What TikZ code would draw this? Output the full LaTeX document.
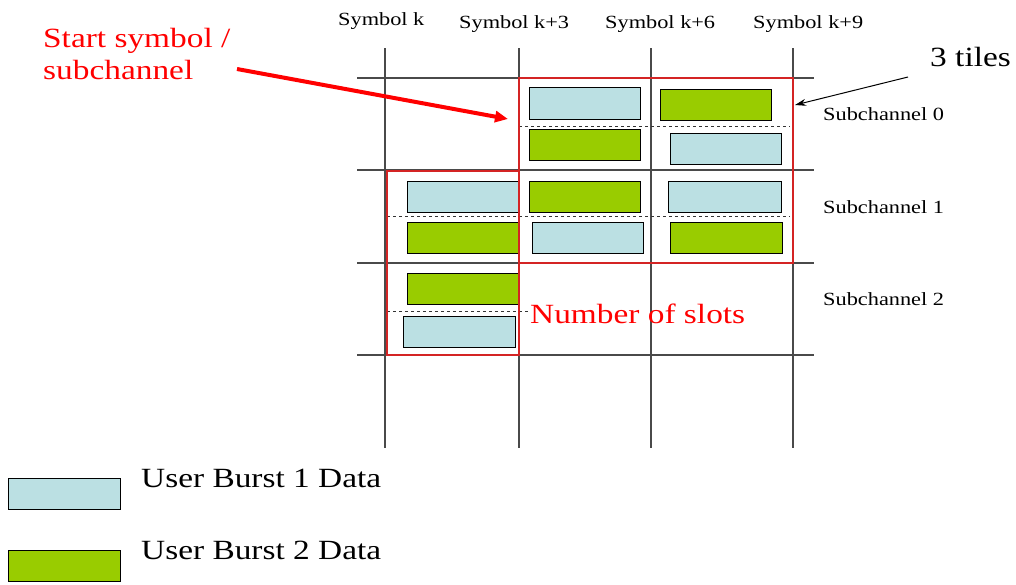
\documentclass[tikz,border=0pt]{standalone}
\usepackage{fontspec}
\setmainfont{Liberation Serif}[FakeStretch=1.2]
\usetikzlibrary{arrows.meta}
\definecolor{burstA}{HTML}{BBE0E3}
\definecolor{burstB}{HTML}{99CC00}
\definecolor{tilered}{HTML}{D42424}
\definecolor{gridc}{HTML}{4A4A4A}
\begin{document}
\begin{tikzpicture}[x=1pt,y=-1pt,
  grid/.style={draw=gridc, line width=1.1pt},
  tile/.style={draw=tilered, line width=1.5pt},
  sep/.style={draw=black!80, line width=0.9pt, dash pattern=on 3pt off 3pt},
  ba/.style={draw=black, fill=burstA, line width=1pt},
  bb/.style={draw=black, fill=burstB, line width=1pt},
  small/.style={anchor=base west, inner sep=0pt, font=\fontsize{18.6}{22}\selectfont},
  big/.style={anchor=base west, inner sep=0pt, font=\fontsize{27.8}{32}\selectfont},
  redtext/.style={text=red},
]
\useasboundingbox (0,0) rectangle (1016,584);
% grid
\foreach \x in {385,519,651,793} \draw[grid] (\x,48) -- (\x,448);
\foreach \y in {78,170,263,355} \draw[grid] (357,\y) -- (814,\y);
% dashed separators
\draw[sep] (519,126) -- (790,126);
\draw[sep] (387,216) -- (790,216);
\draw[sep] (387,311) -- (530,311);
% bursts - subchannel 0
\draw[ba] (529,87) rectangle (640,119);
\draw[bb] (660,89) rectangle (771,120);
\draw[bb] (529,129) rectangle (640,160);
\draw[ba] (670,133) rectangle (781,164);
% subchannel 1
\draw[ba] (407,181) rectangle (519,212);
\draw[bb] (529,181) rectangle (640,212);
\draw[ba] (668,181) rectangle (781,212);
\draw[bb] (407,222) rectangle (519,253);
\draw[ba] (532,222) rectangle (643,253);
\draw[bb] (670,222) rectangle (782,253);
% subchannel 2
\draw[bb] (407,273) rectangle (519,304);
\draw[ba] (403,316) rectangle (515,347);
% red tile outlines
\draw[tile] (519,78) rectangle (793,263);
\draw[tile] (387,171) rectangle (519,355);
% labels
\node[small] (sk)  at (338,25) {Symbol k};
\node[small] (sk3) at (459,28) {Symbol k+3};
\node[small] (sk6) at (605,28) {Symbol k+6};
\node[small] (sk9) at (753,28) {Symbol k+9};
\node[small] (sc0) at (823,120) {Subchannel 0};
\node[small] (sc1) at (823,213) {Subchannel 1};
\node[small] (sc2) at (823,305) {Subchannel 2};
\node[big,redtext] (start1) at (43,47) {Start symbol /};
\node[big,redtext] (start2) at (43,79) {subchannel};
\node[big] (tiles) at (930,66) {3 tiles};
\node[big,redtext] (slots) at (530,323) {Number of slots};
% arrows
\coordinate (rs) at (237,69);
\coordinate (re) at (508,119);
\draw[red, line width=4pt, -{Triangle[length=13pt,width=11pt]}] (rs) -- (re);
\coordinate (ts) at (908,77);
\coordinate (te) at (795,105);
\draw[black, line width=1pt, -{Stealth[length=11pt,width=7pt]}] (ts) -- (te);
% legend
\draw[ba] (8,478) rectangle (120,509);
\draw[bb] (8,550) rectangle (120,581);
\node[big] (l1) at (141,487) {User Burst 1 Data};
\node[big] (l2) at (141,559) {User Burst 2 Data};
\end{tikzpicture}
\end{document}
